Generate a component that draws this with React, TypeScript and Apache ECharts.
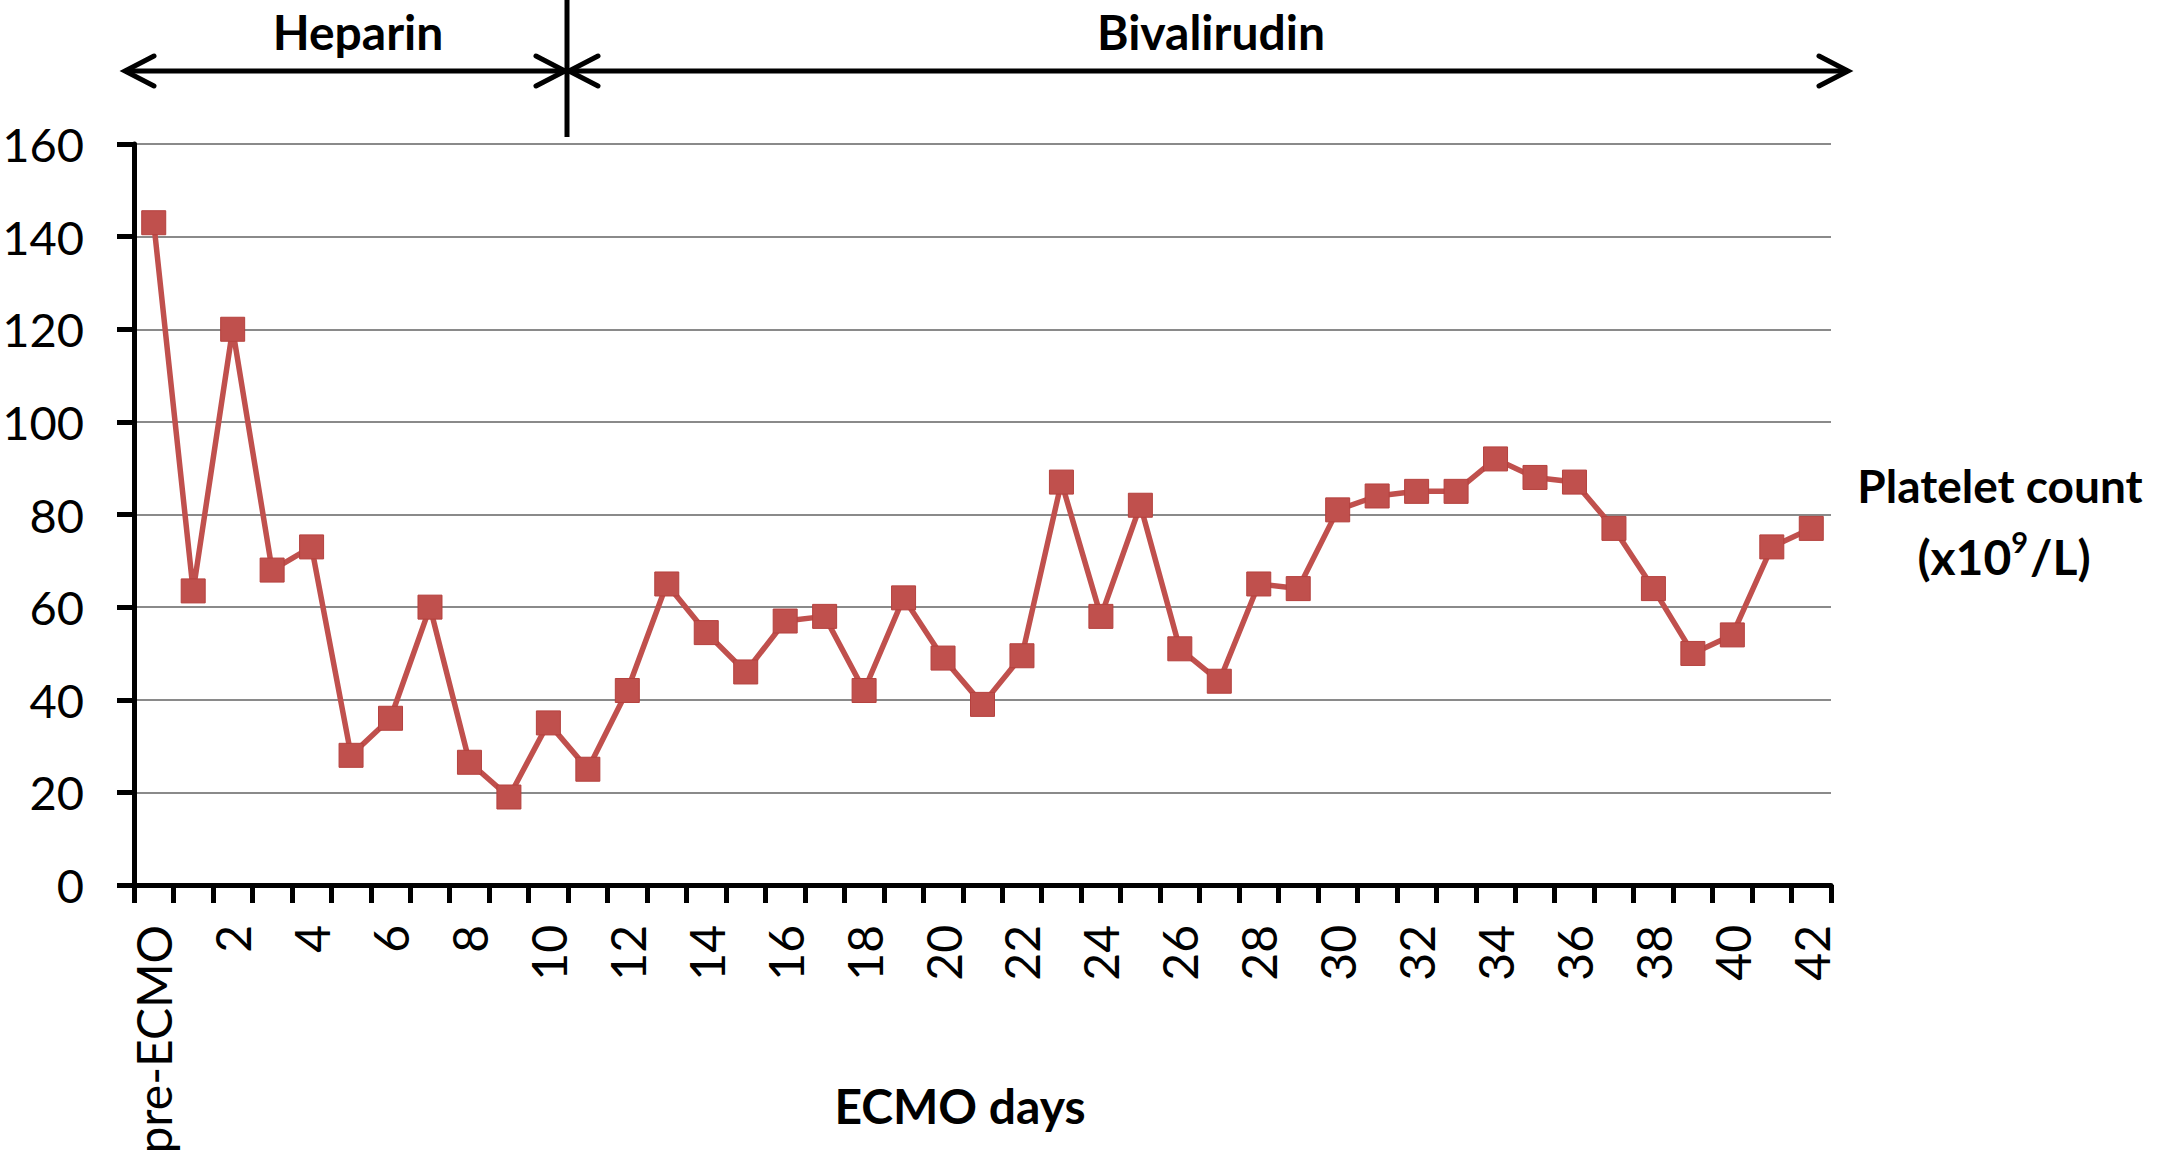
import React, { useEffect, useRef } from "react";
import * as echarts from "echarts";

const categories = [
  "pre-ECMO", "1", "2", "3", "4", "5", "6", "7", "8", "9", "10",
  "11", "12", "13", "14", "15", "16", "17", "18", "19", "20",
  "21", "22", "23", "24", "25", "26", "27", "28", "29", "30",
  "31", "32", "33", "34", "35", "36", "37", "38", "39", "40",
  "41", "42",
];

const plateletCounts = [
  143, 63.5, 120, 68, 73, 28, 36, 60, 26.5, 19, 35,
  25, 42, 65, 54.5, 46, 57, 58, 42, 62, 49,
  39, 49.5, 87, 58, 82, 51, 44, 65, 64, 81,
  84, 85, 85, 92, 88, 87, 77, 64, 50, 54,
  73, 77,
];

const yMin = 0;
const yMax = 160;
const yInterval = 20;

const phaseLabels = ["Heparin", "Bivalirudin"];
const xAxisTitle = "ECMO days";
const yAxisTitle = "Platelet count";

const FONT = "Lato, 'Open Sans', sans-serif";
const RED = "#C0504D";

function arrowHead(tipX: number, y: number, dir: number) {
  return {
    type: "polyline",
    shape: {
      points: [
        [tipX - dir * 29, y - 15],
        [tipX, y],
        [tipX - dir * 29, y + 15],
      ],
    },
    style: { stroke: "#000", lineWidth: 5, fill: null, lineCap: "round", lineJoin: "miter" },
  };
}

export default function App() {
  const ref = useRef<HTMLDivElement>(null);
  useEffect(() => {
    document.body.style.margin = "0";
    const chart = echarts.init(ref.current!, null, { renderer: "svg" });
    const arrowY = 71;
    const divX = 567;
    chart.setOption({
      animation: false,
      backgroundColor: "#fff",
      grid: {
        left: 134,
        right: 334,
        top: 144,
        bottom: 270,
        containLabel: false,
        outerBoundsMode: "none",
      },
      xAxis: {
        type: "category",
        data: categories,
        boundaryGap: true,
        axisLine: { show: true, lineStyle: { color: "#000", width: 5 } },
        axisTick: { show: true, interval: 0, length: 18, lineStyle: { color: "#000", width: 5 } },
        axisLabel: {
          interval: 1,
          rotate: 90,
          margin: 40,
          fontSize: 48,
          fontFamily: FONT,
          color: "#000",
        },
        splitLine: { show: false },
      },
      yAxis: {
        type: "value",
        min: yMin,
        max: yMax,
        interval: yInterval,
        axisLine: { show: true, lineStyle: { color: "#000", width: 5 } },
        axisTick: { show: true, length: 17, lineStyle: { color: "#000", width: 5 } },
        axisLabel: { margin: 50, fontSize: 47, fontFamily: FONT, color: "#000" },
        splitLine: { show: true, lineStyle: { color: "#8a8a8a", width: 2 } },
      },
      series: [
        {
          type: "line",
          data: plateletCounts,
          symbol: "rect",
          symbolSize: 24,
          lineStyle: { color: RED, width: 5.5 },
          itemStyle: { color: RED, borderColor: "#B5413E", borderWidth: 1 },
          z: 5,
        },
      ],
      graphic: [
        {
          type: "text",
          x: 358,
          y: 31,
          style: {
            text: phaseLabels[0],
            font: `bold 48px ${FONT}`,
            fill: "#000",
            textAlign: "center",
            textVerticalAlign: "middle",
          },
        },
        {
          type: "text",
          x: 1211,
          y: 31,
          style: {
            text: phaseLabels[1],
            font: `bold 48px ${FONT}`,
            fill: "#000",
            textAlign: "center",
            textVerticalAlign: "middle",
          },
        },
        {
          type: "line",
          shape: { x1: 127, y1: arrowY, x2: 1846, y2: arrowY },
          style: { stroke: "#000", lineWidth: 5 },
        },
        {
          type: "line",
          shape: { x1: divX, y1: 0, x2: divX, y2: 137 },
          style: { stroke: "#000", lineWidth: 5 },
        },
        arrowHead(125, arrowY, -1),
        arrowHead(divX - 2, arrowY, 1),
        arrowHead(divX + 2, arrowY, -1),
        arrowHead(1848, arrowY, 1),
        {
          type: "text",
          x: 2000,
          y: 485,
          style: {
            text: yAxisTitle,
            font: `bold 46px ${FONT}`,
            fill: "#000",
            textAlign: "center",
            textVerticalAlign: "middle",
          },
        },
        {
          type: "text",
          x: 2004,
          y: 556,
          style: {
            text: "{n|(x10}{s|9}{n|/L)}",
            fill: "#000",
            textAlign: "center",
            textVerticalAlign: "middle",
            rich: {
              n: { font: `bold 48px ${FONT}`, fill: "#000", lineHeight: 58 },
              s: { font: `bold 29px ${FONT}`, fill: "#000", verticalAlign: "top", lineHeight: 58, padding: [0, 2, 0, 0] },
            },
          },
        },
        {
          type: "text",
          x: 960,
          y: 1105,
          style: {
            text: xAxisTitle,
            font: `bold 48px ${FONT}`,
            fill: "#000",
            textAlign: "center",
            textVerticalAlign: "middle",
          },
        },
      ],
    });
    return () => chart.dispose();
  }, []);
  return <div ref={ref} style={{ width: 2165, height: 1155 }} />;
}
